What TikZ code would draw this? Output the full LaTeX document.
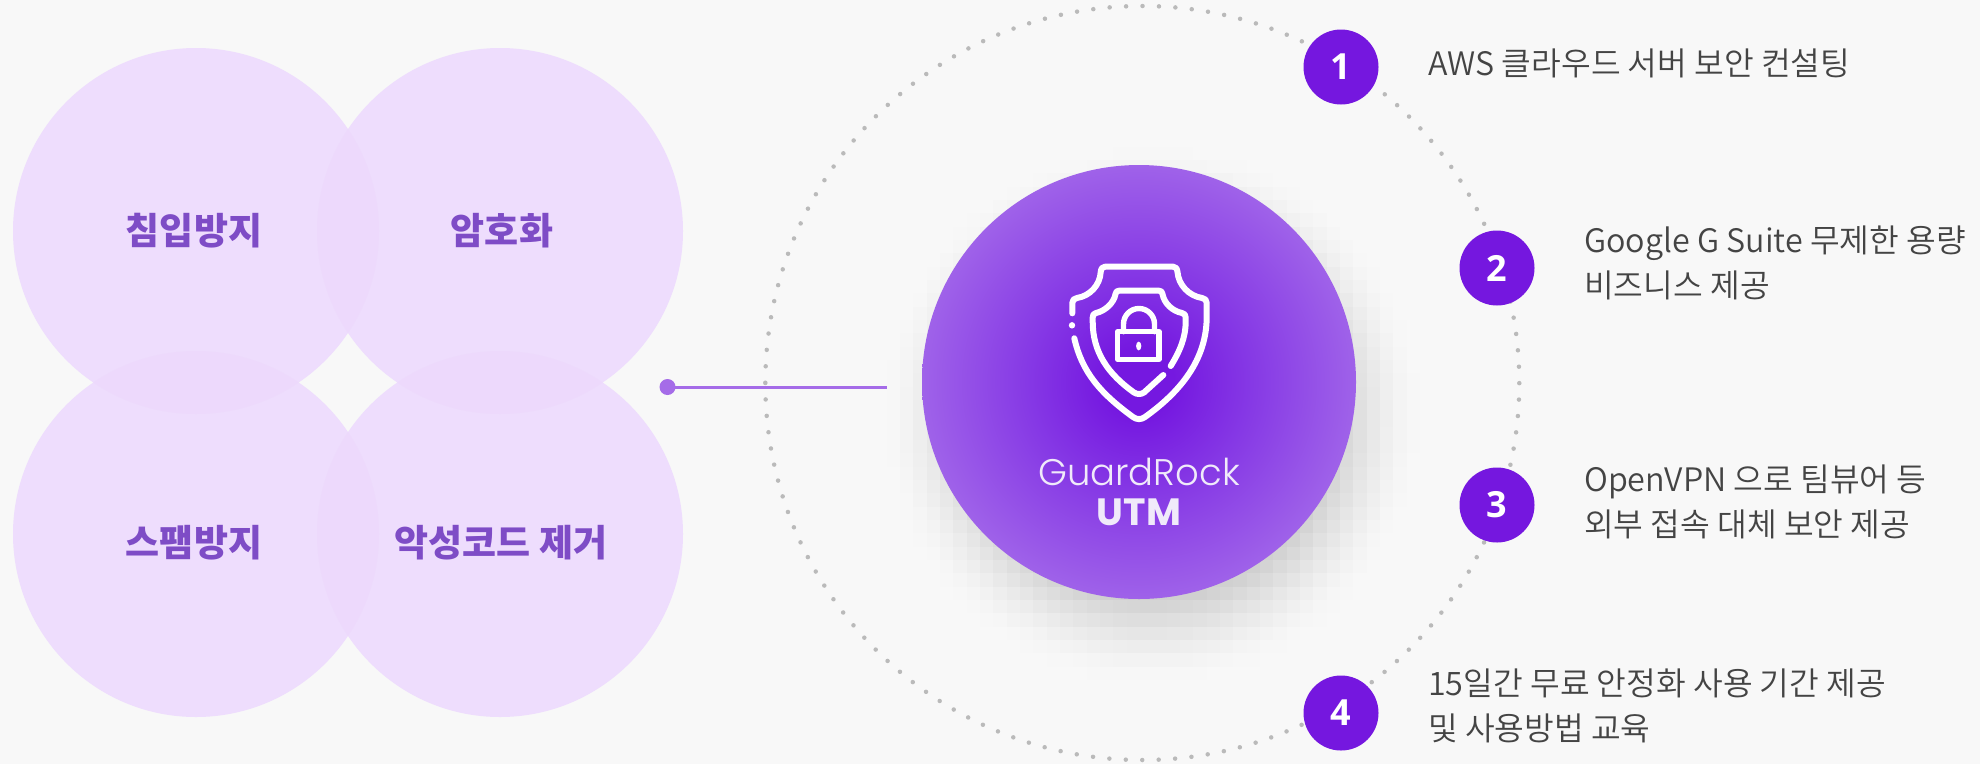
\documentclass[tikz,border=0pt]{standalone}
\usepackage{fontspec}
\setmainfont{Noto Sans CJK KR}
\newfontfamily\lightfont{Noto Sans CJK KR DemiLight}
\newfontfamily\gfont{Poppins Light}
\newfontfamily\gbold{Poppins}
\newfontfamily\numfont{Open Sans}
\definecolor{bgc}{HTML}{F8F8F8}
\definecolor{lobe}{HTML}{EEDDFD}
\definecolor{lens}{HTML}{EDD9FC}
\definecolor{lobetext}{HTML}{7E4CC6}
\definecolor{numc}{HTML}{7517DF}
\definecolor{linec}{HTML}{A56CE8}
\definecolor{dotc}{HTML}{BABABA}
\definecolor{txt}{HTML}{444444}
\definecolor{utmtext}{HTML}{F0EAFA}
\definecolor{mcin}{HTML}{7518E0}
\definecolor{mcmid}{HTML}{8639E5}
\definecolor{mcout}{HTML}{9F62E9}
\pgfdeclareradialshading{mainglow}{\pgfpoint{0bp}{0bp}}{color(0bp)=(mcin); color(4bp)=(mcin); color(13bp)=(mcmid); color(25bp)=(mcout); color(50bp)=(mcout)}
\tikzset{
  lobec/.style={circle,fill=lobe,minimum size=366pt,inner sep=0pt,outer sep=0pt},
  lobelab/.style={font=\bfseries\fontsize{37}{40}\selectfont,text=lobetext,inner sep=0pt},
  numdot/.style={circle,fill=numc,minimum size=75pt,inner sep=0pt,text=white,font=\numfont\bfseries\fontsize{36}{40}\selectfont},
  desc/.style={anchor=west,align=left,inner sep=0pt,text=txt,font=\lightfont\fontsize{32.3}{45}\selectfont},
  icon/.style={draw=white,line width=6pt,line cap=round,line join=round}
}
\begin{document}
\begin{tikzpicture}[x=1pt,y=-1pt]
\useasboundingbox (0,0) rectangle (1980,764);
\fill[bgc] (0,0) rectangle (1980,764);
% lobes
\node[lobec] (lobeA) at (196,231) {};
\node[lobec] (lobeB) at (500,231) {};
\node[lobec] (lobeC) at (196,534) {};
\node[lobec] (lobeD) at (500,534) {};
\begin{scope}\clip (196,231) circle (183); \fill[lens] (500,231) circle (183); \fill[lens] (196,534) circle (183); \end{scope}
\begin{scope}\clip (500,534) circle (183); \fill[lens] (500,231) circle (183); \fill[lens] (196,534) circle (183); \end{scope}
\node[lobelab] (labA) at (194,231) {침입방지};
\node[lobelab] (labB) at (502,231) {암호화};
\node[lobelab] (labC) at (194,543) {스팸방지};
\node[lobelab] (labD) at (501,543) {악성코드 제거};
% blocky shadow
\foreach \i in {0,...,43}{\foreach \j in {0,...,43}{
  \pgfmathsetmacro\bx{860+13.33*\i}
  \pgfmathsetmacro\by{120+13.33*\j}
  \pgfmathsetmacro\dd{veclen(\bx+6.67-1152,\by+6.67-415)}
  \pgfmathsetmacro\tt{max(0,min(1,(265-\dd)/81))}
  \pgfmathtruncatemacro\vv{248-40*\tt*sqrt(\tt)}
  \ifnum\vv<248
    \fill[fill={rgb,255:red,\vv;green,\vv;blue,\vv}] (\bx,\by) rectangle ++(13.5,13.5);
  \fi
}}
% dotted ring
\node[circle,minimum size=754pt,inner sep=0pt] (ring) at (1142.5,383) {};
\draw[dotc,line width=4.5pt,line cap=round,dash pattern=on 0pt off 16.45pt] (ring.west) arc[start angle=180,end angle=-180,radius=377];
% connector
\node[circle,fill=linec,minimum size=16pt,inner sep=0pt] (hub) at (667.5,387) {};
\coordinate (hubend) at (887,387);
\draw[linec,line width=3pt] (hub.center) -- (hubend);
% main circle
\node[circle,minimum size=434pt,inner sep=0pt,shading=mainglow] (main) at (1139,382) {};
% shield
\draw[icon] (1072.3,313.3) -- (1072.3,303) .. controls (1072.3,300) and (1074,298.5) .. (1077,298)
  .. controls (1090,296) and (1100,285) .. (1100.7,272) .. controls (1101,268.5) and (1102.5,266.7) .. (1105,266.7)
  -- (1173.3,266.7) .. controls (1175.8,266.7) and (1177,268.5) .. (1177.5,272)
  .. controls (1178.5,285) and (1189,296) .. (1202,298) .. controls (1205,298.5) and (1206.7,300) .. (1206.7,303)
  -- (1206.7,316.7) .. controls (1206.7,360) and (1180,392) .. (1145,417) .. controls (1141,419.8) and (1137,419.8) .. (1133,417)
  .. controls (1100,393) and (1082,372) .. (1074.3,338.3);
\fill[white] (1072,325.3) circle (3.2);
\draw[icon] (1170.7,366) .. controls (1180,351) and (1185.7,337) .. (1185.7,321.7) -- (1185.7,317.5)
  .. controls (1185.7,315) and (1184.5,313.5) .. (1182,313) .. controls (1172,311) and (1164,303) .. (1162.5,294)
  .. controls (1162,291.5) and (1161,290.7) .. (1159,290.7) -- (1119,290.7) .. controls (1117,290.7) and (1116,291.5) .. (1115.5,294)
  .. controls (1114,303) and (1105,311) .. (1096,313) .. controls (1093.5,313.5) and (1092.7,315) .. (1092.7,317.5) -- (1092.7,321.7)
  .. controls (1092.7,352) and (1108,374) .. (1134,392.5) .. controls (1137,394.5) and (1141,394.5) .. (1144,392.5) -- (1163.3,375);
\draw[icon,line width=5.4pt] (1117.7,331.7) rectangle (1159,359.3);
\draw[icon,line width=5.4pt] (1123.5,331.7) -- (1123.5,324) arc[start angle=180,end angle=360,radius=15.5] -- (1154.5,331.7);
\fill[white] (1138.7,346) ellipse (2.6 and 4.4);
\node[inner sep=0pt,text=utmtext,font=\gfont\fontsize{37}{40}\selectfont,anchor=base] (brand) at (1139,485) {GuardRock};
\node[inner sep=0pt,text=utmtext,font=\gbold\bfseries\fontsize{38}{40}\selectfont,anchor=base] (utm) at (1139,525) {UTM};
% numbered items
\node[numdot] (n1) at (1341,67) {1};
\node[numdot] (n2) at (1497,268) {2};
\node[numdot] (n3) at (1497,505) {3};
\node[numdot] (n4) at (1341,713) {4};
\node[desc] (d1) at (1428,63) {AWS 클라우드 서버 보안 컨설팅};
\node[desc] (d2) at (1584,263) {Google G Suite 무제한 용량\\비즈니스 제공};
\node[desc] (d3) at (1584,502) {OpenVPN 으로 팀뷰어 등\\외부 접속 대체 보안 제공};
\node[desc] (d4) at (1428,706) {15일간 무료 안정화 사용 기간 제공\\및 사용방법 교육};
\end{tikzpicture}
\end{document}
